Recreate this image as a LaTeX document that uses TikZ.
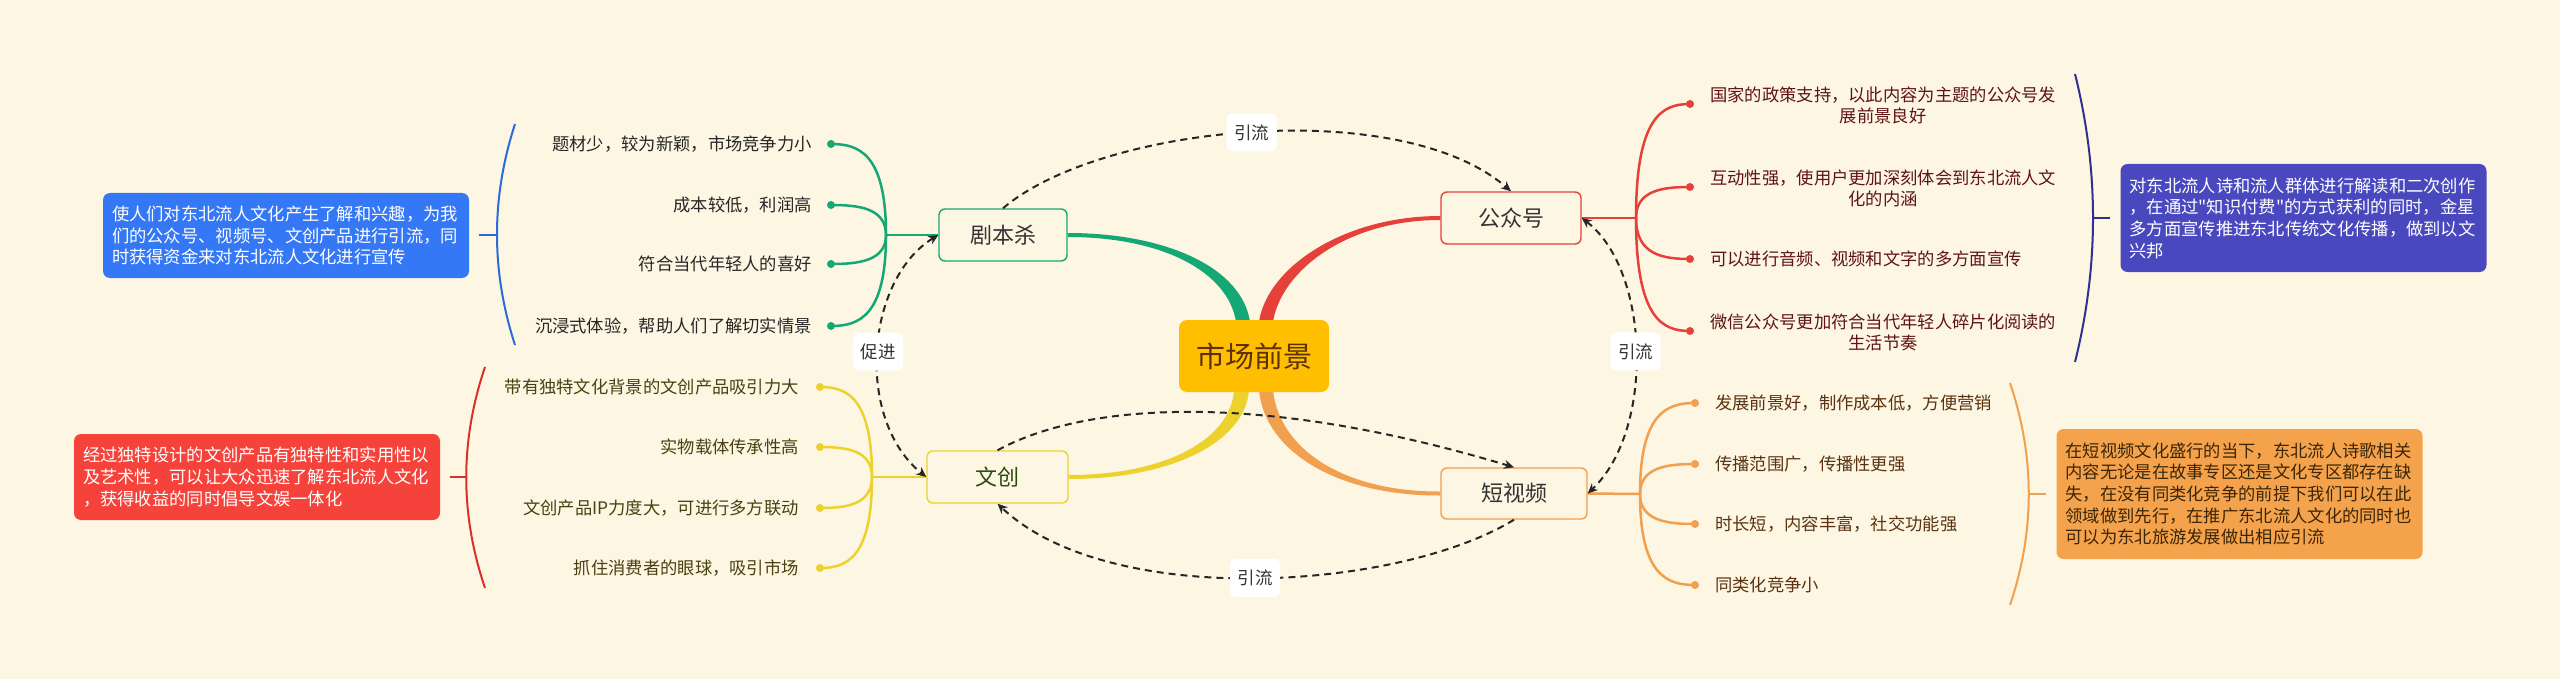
\documentclass[tikz,border=0pt]{standalone}
\usepackage{fontspec}
\setmainfont{Noto Sans CJK SC}
\newfontfamily\plainq{Noto Sans CJK SC}
\usetikzlibrary{calc,arrows.meta}
\pgfdeclarelayer{bglayer}
\pgfsetlayers{bglayer,main}
\definecolor{bgc}{HTML}{FDF6E3}
\definecolor{cgreen}{HTML}{16A874}
\definecolor{cred}{HTML}{E5413A}
\definecolor{cyellow}{HTML}{EDD22E}
\definecolor{corange}{HTML}{F0A04E}
\definecolor{croot}{HTML}{FFBE00}
\definecolor{croottext}{HTML}{5C3300}
\definecolor{cblue}{HTML}{3478F5}
\definecolor{cbluel}{HTML}{2C6AD8}
\definecolor{credbox}{HTML}{F5433B}
\definecolor{credl}{HTML}{D9302C}
\definecolor{cindigo}{HTML}{4A48BF}
\definecolor{cindigol}{HTML}{2E3192}
\definecolor{corangebox}{HTML}{F5A24C}
\definecolor{tgreen}{HTML}{262626}
\definecolor{tyellow}{HTML}{4A4010}
\definecolor{tred}{HTML}{5E1414}
\definecolor{torange}{HTML}{5A3210}
\definecolor{twc}{HTML}{2E4A12}
\definecolor{tosum}{HTML}{3B2606}
\newcommand\leafline[3]{\draw[conn,#1] (#2) .. controls ($(#2|-#3)!0.1!(#2)$) and ($(#2|-#3)!0.5!(#3)$) .. (#3.center);}
\newcommand\sq{{\plainq "}}
\begin{document}
\begin{tikzpicture}[x=1pt,y=-1pt,
  leaf/.style={inner sep=0pt, font=\fontsize{17.3}{21}\selectfont},
  dotn/.style={circle, inner sep=0pt, minimum size=8pt},
  topic/.style={draw, line width=1.4pt, rounded corners=6pt, fill=bgc, inner sep=0pt, text=black!80, font=\fontsize{22}{26}\selectfont},
  summ/.style={rounded corners=7pt, inner xsep=9pt, inner ysep=0pt, text width=348pt, align=left, font=\fontsize{17.3}{21.7}\selectfont, minimum width=366pt},
  conn/.style={line width=2.5pt},
  brk/.style={line width=2pt},
  rel/.style={dash pattern=on 7pt off 5pt, line width=2pt, black!85, >={Stealth[length=10pt,width=9pt]}},
  lbl/.style={fill=white, rounded corners=6pt, minimum width=50pt, minimum height=38pt, inner sep=0pt, text=black!80, font=\fontsize{17.5}{20}\selectfont}
]
\useasboundingbox (0,0) rectangle (2560,679);
\begin{pgfonlayer}{bglayer}
\fill[bgc] (0,0) rectangle (2560,679);
\end{pgfonlayer}

% main nodes
\node[fill=croot, rounded corners=8pt, minimum width=150pt, minimum height=72pt, inner sep=0pt, text=croottext, font=\fontsize{29}{34}\selectfont] (root) at (1254,356) {市场前景};
\node[topic, draw=cgreen, minimum width=128pt, minimum height=52pt] (jbs) at (1003,235) {剧本杀};
\node[topic, draw=cyellow, text=twc, minimum width=141pt, minimum height=52pt] (wc) at (997.5,477) {文创};
\node[topic, draw=cred, minimum width=140pt, minimum height=52pt] (gzh) at (1511,218) {公众号};
\node[topic, draw=corange, minimum width=146pt, minimum height=51pt] (dsp) at (1514,493.5) {短视频};

% tapered main branches
\begin{pgfonlayer}{bglayer}
\fill[cgreen] ($(root.north)+(-18,2)$) .. controls (1228,272) and (1163,237) .. ($(jbs.east)+(0,2)$) -- ($(jbs.east)+(0,-2)$) .. controls (1167,233) and (1242,268) .. ($(root.north)+(-4,2)$) -- cycle;
\fill[cred] ($(root.north)+(19,2)$) .. controls (1281,272) and (1345,220) .. ($(gzh.west)+(0,2)$) -- ($(gzh.west)+(0,-2)$) .. controls (1343,216) and (1267,268) .. ($(root.north)+(5,2)$) -- cycle;
\fill[cyellow] ($(root.south)+(-20,-2)$) .. controls (1231,438) and (1168,475) .. ($(wc.east)+(0,-2)$) -- ($(wc.east)+(0,2)$) .. controls (1172,479) and (1245,442) .. ($(root.south)+(-5,-2)$) -- cycle;
\fill[corange] ($(root.south)+(5,-2)$) .. controls (1265,452) and (1338,496) .. ($(dsp.west)+(0,2)$) -- ($(dsp.west)+(0,-2)$) .. controls (1342,492) and (1279,448) .. ($(root.south)+(19,-2)$) -- cycle;
\end{pgfonlayer}

% ---- 剧本杀 leaves
\coordinate (gj) at (886,235);
\draw[conn,cgreen] (jbs.west) -- (gj);
\node[dotn, fill=cgreen] (g1) at (831,144) {};
\node[dotn, fill=cgreen] (g2) at (831,205) {};
\node[dotn, fill=cgreen] (g3) at (831,264) {};
\node[dotn, fill=cgreen] (g4) at (831,326) {};
\leafline{cgreen}{gj}{g1}
\leafline{cgreen}{gj}{g2}
\leafline{cgreen}{gj}{g3}
\leafline{cgreen}{gj}{g4}
\node[leaf, anchor=east, text=tgreen] (gt1) at (812,144) {题材少，较为新颖，市场竞争力小};
\node[leaf, anchor=east, text=tgreen] (gt2) at (812,205) {成本较低，利润高};
\node[leaf, anchor=east, text=tgreen] (gt3) at (812,264) {符合当代年轻人的喜好};
\node[leaf, anchor=east, text=tgreen] (gt4) at (812,326) {沉浸式体验，帮助人们了解切实情景};
\draw[brk, cbluel] (515,124) .. controls (491,198) and (491,271) .. (515,345);
\node[summ, fill=cblue, text=white, minimum height=85pt] (bsum) at (286,235.5) {使人们对东北流人文化产生了解和兴趣，为我\\们的公众号、视频号、文创产品进行引流，同\\时获得资金来对东北流人文化进行宣传};
\coordinate (bbm) at (497,235.5);
\draw[brk, cbluel] (bbm) -- ($(bsum.east)+(10,0)$);

% ---- 文创 leaves
\coordinate (yj) at (872,477);
\draw[conn,cyellow] (wc.west) -- (yj);
\node[dotn, fill=cyellow] (y1) at (820,387) {};
\node[dotn, fill=cyellow] (y2) at (820,447) {};
\node[dotn, fill=cyellow] (y3) at (820,508) {};
\node[dotn, fill=cyellow] (y4) at (820,568) {};
\leafline{cyellow}{yj}{y1}
\leafline{cyellow}{yj}{y2}
\leafline{cyellow}{yj}{y3}
\leafline{cyellow}{yj}{y4}
\node[leaf, anchor=east, text=tyellow] (yt1) at (799,387) {带有独特文化背景的文创产品吸引力大};
\node[leaf, anchor=east, text=tyellow] (yt2) at (799,447) {实物载体传承性高};
\node[leaf, anchor=east, text=tyellow] (yt3) at (799,508) {文创产品IP力度大，可进行多方联动};
\node[leaf, anchor=east, text=tyellow] (yt4) at (799,568) {抓住消费者的眼球，吸引市场};
\draw[brk, credl] (485,367) .. controls (460,441) and (460,514) .. (485,588);
\node[summ, fill=credbox, text=white, minimum height=86pt] (rsum) at (257,477) {经过独特设计的文创产品有独特性和实用性以\\及艺术性，可以让大众迅速了解东北流人文化\\，获得收益的同时倡导文娱一体化};
\coordinate (rbm) at (466,477);
\draw[brk, credl] (rbm) -- ($(rsum.east)+(10,0)$);

% ---- 公众号 leaves
\coordinate (rj) at (1636,218);
\draw[conn,cred] (gzh.east) -- (rj);
\node[dotn, fill=cred] (r1) at (1690,104) {};
\node[dotn, fill=cred] (r2) at (1690,187) {};
\node[dotn, fill=cred] (r3) at (1690,259) {};
\node[dotn, fill=cred] (r4) at (1690,331) {};
\leafline{cred}{rj}{r1}
\leafline{cred}{rj}{r2}
\leafline{cred}{rj}{r3}
\leafline{cred}{rj}{r4}
\node[leaf, anchor=west, align=center, text=tred] (rt1) at (1710,105) {国家的政策支持，以此内容为主题的公众号发\\展前景良好};
\node[leaf, anchor=west, align=center, text=tred] (rt2) at (1710,188) {互动性强，使用户更加深刻体会到东北流人文\\化的内涵};
\node[leaf, anchor=west, align=center, text=tred] (rt3) at (1710,259) {可以进行音频、视频和文字的多方面宣传};
\node[leaf, anchor=west, align=center, text=tred] (rt4) at (1710,332) {微信公众号更加符合当代年轻人碎片化阅读的\\生活节奏};
\draw[brk, cindigol] (2075,74) .. controls (2099,170) and (2099,266) .. (2075,362);
\node[summ, fill=cindigo, text=white, minimum height=108pt] (isum) at (2303.5,218) {对东北流人诗和流人群体进行解读和二次创作\\，在通过\sq 知识付费\sq 的方式获利的同时，金星\\多方面宣传推进东北传统文化传播，做到以文\\兴邦};
\coordinate (ibm) at (2093,218);
\draw[brk, cindigol] (ibm) -- ($(isum.west)+(-10,0)$);

% ---- 短视频 leaves
\coordinate (oj) at (1640,494);
\draw[conn,corange] (dsp.east) -- (oj);
\node[dotn, fill=corange] (o1) at (1695,403) {};
\node[dotn, fill=corange] (o2) at (1695,464) {};
\node[dotn, fill=corange] (o3) at (1695,524) {};
\node[dotn, fill=corange] (o4) at (1695,585) {};
\leafline{corange}{oj}{o1}
\leafline{corange}{oj}{o2}
\leafline{corange}{oj}{o3}
\leafline{corange}{oj}{o4}
\node[leaf, anchor=west, text=torange] (ot1) at (1715,403) {发展前景好，制作成本低，方便营销};
\node[leaf, anchor=west, text=torange] (ot2) at (1715,464) {传播范围广，传播性更强};
\node[leaf, anchor=west, text=torange] (ot3) at (1715,524) {时长短，内容丰富，社交功能强};
\node[leaf, anchor=west, text=torange] (ot4) at (1715,585) {同类化竞争小};
\draw[brk, corange] (2010,383) .. controls (2035,457) and (2035,531) .. (2010,605);
\node[summ, fill=corangebox, text=tosum, minimum height=130pt] (osum) at (2239.5,494) {在短视频文化盛行的当下，东北流人诗歌相关\\内容无论是在故事专区还是文化专区都存在缺\\失，在没有同类化竞争的前提下我们可以在此\\领域做到先行，在推广东北流人文化的同时也\\可以为东北旅游发展做出相应引流};
\coordinate (obm) at (2029,494);
\draw[brk, corange] (obm) -- ($(osum.west)+(-10,0)$);

% ---- relations
\draw[rel,->] (jbs.north) .. controls (1100,125) and (1400,95) .. (gzh.north) node[lbl, pos=0.5] (l1) {引流};
\draw[rel,<->] (gzh.east) .. controls (1650,270) and (1655,430) .. (dsp.east) node[lbl, pos=0.5] (l2) {引流};
\draw[rel,<->] (jbs.west) .. controls (865,280) and (855,420) .. (wc.west) node[lbl, pos=0.5] (l3) {促进};
\draw[rel,->] (dsp.south) .. controls (1400,590) and (1110,610) .. (wc.south) node[lbl, pos=0.5] (l4) {引流};
\draw[rel,->] (wc.north) .. controls (1080,405) and (1250,388) .. (dsp.north);
\end{tikzpicture}
\end{document}
